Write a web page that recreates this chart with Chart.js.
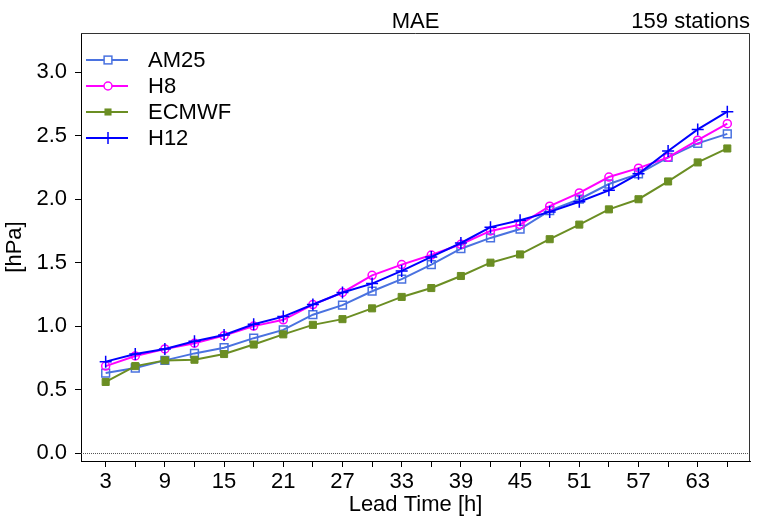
<!DOCTYPE html>
<html>
<head>
<meta charset="utf-8">
<script src="https://cdn.jsdelivr.net/npm/chart.js@4/dist/chart.umd.min.js"></script>
<style>
  html, body { margin: 0; padding: 0; background: #fff; }
  #wrap { width: 758px; height: 521px; }
</style>
</head>
<body>
<div id="wrap"><canvas id="chart" width="758" height="521"></canvas></div>
<script>
// lead times [h]
const leadTimes = [3, 6, 9, 12, 15, 18, 21, 24, 27, 30, 33, 36, 39, 42, 45, 48, 51, 54, 57, 60, 63, 66];

// MAE [hPa] per model
const am25  = [0.63, 0.67, 0.73, 0.785, 0.83, 0.905, 0.97, 1.09, 1.165, 1.275, 1.37, 1.485, 1.61, 1.695, 1.765, 1.91, 2.0, 2.12, 2.2, 2.33, 2.44, 2.515];
const h8    = [0.685, 0.765, 0.82, 0.865, 0.925, 1.0, 1.05, 1.17, 1.265, 1.40, 1.485, 1.56, 1.645, 1.75, 1.80, 1.945, 2.05, 2.175, 2.245, 2.33, 2.465, 2.595];
const ecmwf = [0.56, 0.685, 0.73, 0.735, 0.78, 0.855, 0.935, 1.01, 1.055, 1.14, 1.23, 1.30, 1.395, 1.50, 1.565, 1.685, 1.80, 1.92, 2.0, 2.14, 2.29, 2.40];
const h12   = [0.72, 0.78, 0.82, 0.88, 0.93, 1.015, 1.075, 1.17, 1.265, 1.335, 1.435, 1.545, 1.655, 1.78, 1.835, 1.90, 1.98, 2.07, 2.2, 2.38, 2.55, 2.69];

const yTicks = [0, 0.5, 1.0, 1.5, 2.0, 2.5, 3.0];
const titleText = 'MAE';
const stationsText = '159 stations';

const FONT = '"Liberation Sans", Arial, Helvetica, sans-serif';
Chart.defaults.font.family = FONT;
Chart.defaults.font.size = 22;
Chart.defaults.color = '#000';

function serie(label, values, color, style, radius, filled, order) {
  return {
    label: label,
    data: leadTimes.map((t, i) => ({ x: t, y: values[i] })),
    borderColor: color,
    backgroundColor: filled ? color : 'rgba(0,0,0,0)',
    borderWidth: 2,
    pointStyle: style,
    pointRadius: radius,
    pointBorderWidth: filled ? 1 : 1.5,
    pointBorderColor: color,
    pointBackgroundColor: filled ? color : 'rgba(0,0,0,0)',
    tension: 0,
    order: order
  };
}

const datasets = [
  serie('AM25', am25, '#4a72e0', 'rect', 5.5, false, 3),
  serie('H8', h8, '#ff00ff', 'circle', 4, false, 2),
  serie('ECMWF', ecmwf, '#6b8e23', 'rect', 5, true, 1),
  serie('H12', h12, '#0000ff', 'cross', 6, false, 0)
];

// marco, linea del cero, titulos y leyenda
const decoraciones = {
  id: 'decoraciones',
  beforeDatasetsDraw(chart) {
    const { ctx, chartArea: a, scales } = chart;
    const y0 = scales.y.getPixelForValue(0);
    ctx.save();
    ctx.strokeStyle = '#555';
    ctx.lineWidth = 1;
    ctx.setLineDash([1, 1]);
    ctx.beginPath();
    ctx.moveTo(a.left, y0 + 0.5);
    ctx.lineTo(a.right, y0 + 0.5);
    ctx.stroke();
    ctx.setLineDash([]);
    ctx.strokeStyle = '#333';
    ctx.beginPath();
    ctx.moveTo(a.left, a.top + 0.5);
    ctx.lineTo(a.right - 0.5, a.top + 0.5);
    ctx.lineTo(a.right - 0.5, a.bottom);
    ctx.stroke();
    ctx.restore();
  },
  afterDraw(chart) {
    const { ctx, chartArea: a } = chart;
    ctx.save();
    ctx.fillStyle = '#000';
    ctx.font = '22px ' + FONT;
    ctx.textBaseline = 'alphabetic';
    ctx.textAlign = 'center';
    ctx.fillText(titleText, (a.left + a.right) / 2, 28);
    ctx.textAlign = 'right';
    ctx.fillText(stationsText, a.right, 28);

    // leyenda
    const x0 = a.left + 5, x1 = a.left + 47, xm = a.left + 27, xt = a.left + 67;
    const rows = [60, 86, 112, 138];
    ctx.textAlign = 'left';
    ctx.textBaseline = 'middle';
    datasets.forEach((ds, i) => {
      const y = rows[i];
      ctx.strokeStyle = ds.borderColor;
      ctx.lineWidth = 2;
      ctx.beginPath();
      ctx.moveTo(x0, y);
      ctx.lineTo(x1, y);
      ctx.stroke();
      ctx.fillStyle = '#fff';
      ctx.lineWidth = 1.5;
      const r = ds.pointRadius;
      if (ds.pointStyle === 'rect') {
        const s = r * Math.SQRT1_2;
        if (ds.pointBackgroundColor !== 'rgba(0,0,0,0)') {
          ctx.fillStyle = ds.borderColor;
          ctx.fillRect(xm - s, y - s, 2 * s, 2 * s);
        } else {
          ctx.fillRect(xm - s, y - s, 2 * s, 2 * s);
          ctx.strokeRect(xm - s, y - s, 2 * s, 2 * s);
        }
      } else if (ds.pointStyle === 'circle') {
        ctx.beginPath();
        ctx.arc(xm, y, r, 0, Math.PI * 2);
        ctx.fill();
        ctx.stroke();
      } else {
        ctx.beginPath();
        ctx.moveTo(xm, y - r);
        ctx.lineTo(xm, y + r);
        ctx.stroke();
      }
      ctx.fillStyle = '#000';
      ctx.fillText(ds.label, xt, y + 1);
    });
    ctx.restore();
  }
};

new Chart(document.getElementById('chart'), {
  type: 'line',
  data: { datasets: datasets },
  options: {
    responsive: false,
    animation: false,
    layout: { padding: { top: 33, right: 8, left: 0, bottom: 0 } },
    plugins: { legend: { display: false }, tooltip: { enabled: false } },
    scales: {
      x: {
        type: 'linear',
        min: 0.5,
        max: 68.3,
        afterFit: s => { s.height = 60; },
        afterBuildTicks: s => { s.ticks = leadTimes.map(v => ({ value: v })); },
        ticks: {
          autoSkip: false,
          maxRotation: 0,
          padding: 2,
          callback: v => ((v - 3) % 6 === 0 ? String(v) : '')
        },
        grid: { drawOnChartArea: false, tickLength: 6, tickColor: '#000' },
        border: { color: '#000', width: 1 },
        title: { display: true, text: 'Lead Time [h]', padding: { top: 0, bottom: 3 } }
      },
      y: {
        min: -0.063,
        max: 3.31,
        afterFit: s => { s.width = 81; },
        afterBuildTicks: s => { s.ticks = yTicks.map(v => ({ value: v })); },
        ticks: { padding: 8, callback: v => v.toFixed(1) },
        grid: { drawOnChartArea: false, tickLength: 6, tickColor: '#000' },
        border: { color: '#000', width: 1 },
        title: { display: true, text: '[hPa]', padding: { top: 2, bottom: 2 } }
      }
    }
  },
  plugins: [decoraciones]
});
</script>
</body>
</html>
